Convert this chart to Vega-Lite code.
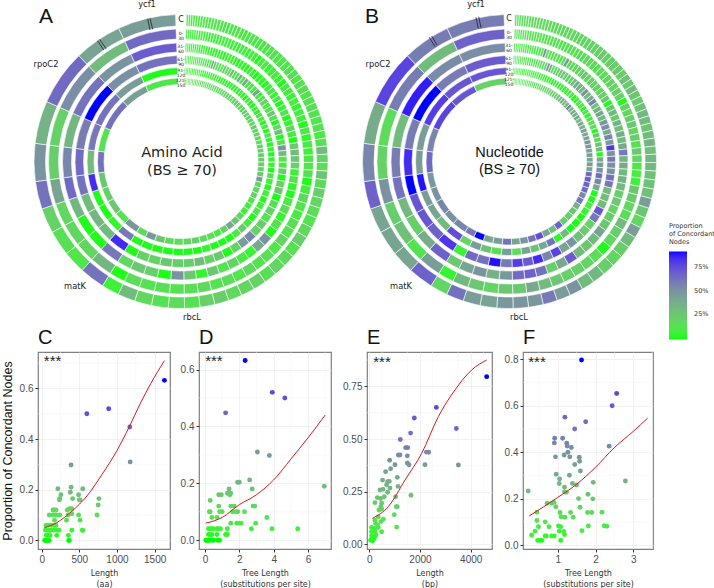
{"$schema":"https://vega.github.io/schema/vega-lite/v6.json","padding":0,"background":"white","config":{"view":{"stroke":null},"font":"DejaVu Sans"},
"datasets":{
"a1":[{"n":60,"v":10},{"n":62,"v":12},{"n":65,"v":8},{"n":68,"v":10},{"n":70,"v":12},{"n":72,"v":8},{"n":75,"v":10},{"n":78,"v":12},{"n":80,"v":10},{"n":82,"v":8},{"n":85,"v":12},{"n":88,"v":10},{"n":90,"v":10},{"n":92,"v":8},{"n":95,"v":12},{"n":98,"v":10},{"n":100,"v":8},{"n":102,"v":10},{"n":105,"v":12},{"n":108,"v":10},{"n":110,"v":8},{"n":112,"v":10},{"n":115,"v":12},{"n":120,"v":10},{"n":125,"v":8},{"n":130,"v":12},{"n":135,"v":10},{"n":140,"v":10},{"n":145,"v":14},{"n":150,"v":10},{"n":155,"v":12},{"n":158,"v":12},{"n":162,"v":10},{"n":166,"v":14},{"n":170,"v":10},{"n":175,"v":12},{"n":180,"v":14},{"n":185,"v":10},{"n":190,"v":12},{"n":195,"v":14},{"n":200,"v":12},{"n":205,"v":10},{"n":210,"v":14},{"n":215,"v":8},{"n":220,"v":14},{"n":225,"v":30},{"n":230,"v":18},{"n":235,"v":14},{"n":245,"v":28},{"n":255,"v":16},{"n":265,"v":22},{"n":275,"v":18},{"n":285,"v":14},{"n":295,"v":12},{"n":305,"v":16},{"n":315,"v":22},{"n":325,"v":12},{"n":335,"v":16},{"n":345,"v":18},{"n":355,"v":14},{"n":365,"v":20},{"n":375,"v":18},{"n":385,"v":16},{"n":395,"v":22},{"n":410,"v":20},{"n":425,"v":12},{"n":450,"v":15},{"n":465,"v":12},{"n":475,"v":17},{"n":485,"v":30},{"n":490,"v":5},{"n":700,"v":62},{"n":630,"v":10},{"n":700,"v":13},{"n":700,"v":20},{"n":770,"v":62},{"n":1050,"v":50},{"n":1190,"v":35},{"n":1540,"v":65},{"n":1330,"v":42},{"n":1610,"v":45}],
"a2":[{"n":60,"v":8},{"n":62,"v":5},{"n":65,"v":8},{"n":68,"v":6},{"n":70,"v":4},{"n":72,"v":8},{"n":75,"v":5},{"n":78,"v":6},{"n":80,"v":8},{"n":82,"v":4},{"n":85,"v":6},{"n":88,"v":8},{"n":90,"v":5},{"n":92,"v":4},{"n":95,"v":8},{"n":98,"v":6},{"n":100,"v":5},{"n":102,"v":8},{"n":105,"v":4},{"n":108,"v":6},{"n":110,"v":5},{"n":112,"v":8},{"n":115,"v":6},{"n":120,"v":3},{"n":125,"v":8},{"n":130,"v":5},{"n":135,"v":0},{"n":140,"v":6},{"n":145,"v":8},{"n":150,"v":4},{"n":155,"v":6},{"n":158,"v":8},{"n":162,"v":5},{"n":166,"v":0},{"n":170,"v":8},{"n":175,"v":6},{"n":180,"v":4},{"n":185,"v":8},{"n":190,"v":2},{"n":195,"v":8},{"n":200,"v":6},{"n":205,"v":0},{"n":210,"v":10},{"n":215,"v":2},{"n":220,"v":8},{"n":225,"v":5},{"n":230,"v":10},{"n":235,"v":10},{"n":245,"v":14},{"n":255,"v":0},{"n":265,"v":6},{"n":275,"v":16},{"n":285,"v":10},{"n":295,"v":8},{"n":305,"v":14},{"n":315,"v":12},{"n":325,"v":18},{"n":335,"v":10},{"n":345,"v":14},{"n":355,"v":12},{"n":365,"v":16},{"n":375,"v":10},{"n":385,"v":14},{"n":395,"v":12},{"n":410,"v":16},{"n":425,"v":14},{"n":450,"v":12},{"n":465,"v":13},{"n":475,"v":13},{"n":485,"v":15},{"n":490,"v":0},{"n":700,"v":33},{"n":630,"v":17},{"n":700,"v":17},{"n":700,"v":18},{"n":770,"v":42},{"n":1050,"v":22},{"n":1190,"v":20},{"n":1540,"v":52},{"n":1330,"v":30},{"n":1610,"v":65}],
"a3":[{"n":60,"v":6},{"n":62,"v":4},{"n":65,"v":2},{"n":68,"v":5},{"n":70,"v":3},{"n":72,"v":6},{"n":75,"v":2},{"n":78,"v":4},{"n":80,"v":0},{"n":82,"v":3},{"n":85,"v":5},{"n":88,"v":2},{"n":90,"v":4},{"n":92,"v":0},{"n":95,"v":3},{"n":98,"v":5},{"n":100,"v":2},{"n":102,"v":0},{"n":105,"v":4},{"n":108,"v":3},{"n":110,"v":6},{"n":112,"v":2},{"n":115,"v":0},{"n":120,"v":4},{"n":125,"v":2},{"n":130,"v":0},{"n":135,"v":5},{"n":140,"v":3},{"n":145,"v":0},{"n":150,"v":4},{"n":155,"v":2},{"n":158,"v":0},{"n":162,"v":3},{"n":166,"v":12},{"n":170,"v":5},{"n":175,"v":8},{"n":180,"v":0},{"n":185,"v":4},{"n":190,"v":14},{"n":195,"v":0},{"n":200,"v":2},{"n":205,"v":18},{"n":210,"v":6},{"n":215,"v":0},{"n":220,"v":25},{"n":225,"v":30},{"n":230,"v":25},{"n":235,"v":20},{"n":245,"v":4},{"n":255,"v":10},{"n":265,"v":2},{"n":275,"v":0},{"n":285,"v":8},{"n":295,"v":15},{"n":305,"v":3},{"n":315,"v":10},{"n":325,"v":0},{"n":335,"v":50},{"n":345,"v":40},{"n":355,"v":3},{"n":365,"v":10},{"n":375,"v":18},{"n":385,"v":12},{"n":395,"v":25},{"n":410,"v":3},{"n":425,"v":25},{"n":450,"v":50},{"n":465,"v":0},{"n":475,"v":20},{"n":485,"v":25},{"n":490,"v":17},{"n":700,"v":60},{"n":630,"v":0},{"n":700,"v":0},{"n":700,"v":33},{"n":770,"v":65},{"n":1050,"v":55},{"n":1190,"v":33},{"n":1540,"v":62},{"n":1330,"v":50},{"n":1610,"v":70}],
"a4":[{"n":60,"v":10},{"n":62,"v":8},{"n":65,"v":6},{"n":68,"v":10},{"n":70,"v":8},{"n":72,"v":6},{"n":75,"v":10},{"n":78,"v":8},{"n":80,"v":6},{"n":82,"v":10},{"n":85,"v":8},{"n":88,"v":12},{"n":90,"v":6},{"n":92,"v":10},{"n":95,"v":45},{"n":98,"v":20},{"n":100,"v":10},{"n":102,"v":8},{"n":105,"v":12},{"n":108,"v":25},{"n":110,"v":10},{"n":112,"v":14},{"n":115,"v":30},{"n":120,"v":12},{"n":125,"v":10},{"n":130,"v":38},{"n":135,"v":8},{"n":140,"v":40},{"n":145,"v":10},{"n":150,"v":14},{"n":155,"v":12},{"n":158,"v":40},{"n":162,"v":8},{"n":166,"v":12},{"n":170,"v":20},{"n":175,"v":6},{"n":180,"v":10},{"n":185,"v":25},{"n":190,"v":12},{"n":195,"v":0},{"n":200,"v":14},{"n":205,"v":30},{"n":210,"v":0},{"n":215,"v":14},{"n":220,"v":50},{"n":225,"v":30},{"n":230,"v":10},{"n":235,"v":10},{"n":245,"v":22},{"n":255,"v":0},{"n":265,"v":18},{"n":275,"v":25},{"n":285,"v":0},{"n":295,"v":12},{"n":305,"v":18},{"n":315,"v":12},{"n":325,"v":22},{"n":335,"v":20},{"n":345,"v":55},{"n":355,"v":45},{"n":365,"v":20},{"n":375,"v":0},{"n":385,"v":25},{"n":395,"v":20},{"n":410,"v":30},{"n":425,"v":22},{"n":450,"v":22},{"n":465,"v":25},{"n":475,"v":20},{"n":485,"v":20},{"n":490,"v":0},{"n":700,"v":85},{"n":630,"v":30},{"n":700,"v":33},{"n":700,"v":30},{"n":770,"v":62},{"n":1050,"v":65},{"n":1190,"v":58},{"n":1540,"v":95},{"n":1330,"v":52},{"n":1610,"v":62}],
"a5":[{"n":60,"v":4},{"n":62,"v":2},{"n":65,"v":0},{"n":68,"v":3},{"n":70,"v":5},{"n":72,"v":0},{"n":75,"v":3},{"n":78,"v":2},{"n":80,"v":0},{"n":82,"v":4},{"n":85,"v":3},{"n":88,"v":0},{"n":90,"v":2},{"n":92,"v":0},{"n":95,"v":5},{"n":98,"v":3},{"n":100,"v":0},{"n":102,"v":2},{"n":105,"v":4},{"n":108,"v":0},{"n":110,"v":3},{"n":112,"v":0},{"n":115,"v":2},{"n":120,"v":0},{"n":125,"v":3},{"n":130,"v":0},{"n":135,"v":5},{"n":140,"v":0},{"n":145,"v":8},{"n":150,"v":3},{"n":155,"v":0},{"n":158,"v":18},{"n":162,"v":2},{"n":166,"v":0},{"n":170,"v":5},{"n":175,"v":0},{"n":180,"v":20},{"n":185,"v":3},{"n":190,"v":0},{"n":195,"v":8},{"n":200,"v":0},{"n":205,"v":15},{"n":210,"v":3},{"n":215,"v":0},{"n":220,"v":8},{"n":225,"v":0},{"n":230,"v":5},{"n":235,"v":5},{"n":245,"v":0},{"n":255,"v":12},{"n":265,"v":3},{"n":275,"v":0},{"n":285,"v":10},{"n":295,"v":0},{"n":305,"v":5},{"n":315,"v":12},{"n":325,"v":0},{"n":335,"v":5},{"n":345,"v":25},{"n":355,"v":8},{"n":365,"v":0},{"n":375,"v":0},{"n":385,"v":0},{"n":395,"v":3},{"n":410,"v":0},{"n":425,"v":0},{"n":450,"v":0},{"n":465,"v":0},{"n":475,"v":0},{"n":485,"v":0},{"n":490,"v":0},{"n":700,"v":60},{"n":630,"v":3},{"n":700,"v":0},{"n":700,"v":0},{"n":770,"v":85},{"n":1050,"v":30},{"n":1190,"v":60},{"n":1540,"v":62},{"n":1330,"v":45},{"n":1610,"v":0}],
"a6":[{"n":60,"v":14},{"n":62,"v":18},{"n":65,"v":12},{"n":68,"v":16},{"n":70,"v":14},{"n":72,"v":18},{"n":75,"v":12},{"n":78,"v":16},{"n":80,"v":14},{"n":82,"v":18},{"n":85,"v":12},{"n":88,"v":14},{"n":90,"v":16},{"n":92,"v":12},{"n":95,"v":14},{"n":98,"v":18},{"n":100,"v":14},{"n":102,"v":16},{"n":105,"v":20},{"n":108,"v":14},{"n":110,"v":12},{"n":112,"v":16},{"n":115,"v":20},{"n":120,"v":16},{"n":125,"v":14},{"n":130,"v":22},{"n":135,"v":18},{"n":140,"v":15},{"n":145,"v":22},{"n":150,"v":18},{"n":155,"v":14},{"n":158,"v":20},{"n":162,"v":16},{"n":166,"v":24},{"n":170,"v":18},{"n":175,"v":22},{"n":180,"v":16},{"n":185,"v":20},{"n":190,"v":25},{"n":195,"v":15},{"n":200,"v":18},{"n":205,"v":22},{"n":210,"v":14},{"n":215,"v":20},{"n":220,"v":18},{"n":225,"v":25},{"n":230,"v":22},{"n":235,"v":22},{"n":245,"v":20},{"n":255,"v":25},{"n":265,"v":45},{"n":275,"v":15},{"n":285,"v":18},{"n":295,"v":20},{"n":305,"v":10},{"n":315,"v":8},{"n":325,"v":5},{"n":335,"v":18},{"n":345,"v":28},{"n":355,"v":42},{"n":365,"v":20},{"n":375,"v":5},{"n":385,"v":15},{"n":395,"v":18},{"n":410,"v":20},{"n":425,"v":18},{"n":450,"v":15},{"n":465,"v":15},{"n":475,"v":25},{"n":485,"v":48},{"n":490,"v":15},{"n":700,"v":48},{"n":630,"v":12},{"n":700,"v":25},{"n":700,"v":22},{"n":770,"v":25},{"n":1050,"v":62},{"n":1190,"v":12},{"n":1540,"v":62},{"n":1330,"v":45},{"n":1610,"v":10}],
"b1":[{"n":60,"v":14},{"n":62,"v":16},{"n":65,"v":12},{"n":68,"v":15},{"n":70,"v":14},{"n":72,"v":18},{"n":75,"v":14},{"n":78,"v":16},{"n":80,"v":15},{"n":82,"v":18},{"n":85,"v":16},{"n":88,"v":14},{"n":90,"v":18},{"n":92,"v":16},{"n":95,"v":15},{"n":98,"v":18},{"n":100,"v":14},{"n":102,"v":16},{"n":105,"v":20},{"n":108,"v":15},{"n":110,"v":18},{"n":112,"v":16},{"n":115,"v":18},{"n":120,"v":20},{"n":125,"v":16},{"n":130,"v":22},{"n":135,"v":18},{"n":140,"v":20},{"n":145,"v":24},{"n":150,"v":20},{"n":155,"v":22},{"n":158,"v":22},{"n":162,"v":25},{"n":166,"v":20},{"n":170,"v":28},{"n":175,"v":24},{"n":180,"v":30},{"n":185,"v":26},{"n":190,"v":22},{"n":195,"v":28},{"n":200,"v":32},{"n":205,"v":30},{"n":210,"v":26},{"n":215,"v":30},{"n":220,"v":35},{"n":225,"v":28},{"n":230,"v":32},{"n":235,"v":30},{"n":245,"v":28},{"n":255,"v":28},{"n":265,"v":28},{"n":275,"v":45},{"n":285,"v":25},{"n":295,"v":18},{"n":305,"v":45},{"n":315,"v":30},{"n":325,"v":22},{"n":335,"v":18},{"n":345,"v":22},{"n":355,"v":32},{"n":365,"v":30},{"n":375,"v":50},{"n":385,"v":45},{"n":395,"v":60},{"n":410,"v":48},{"n":425,"v":48},{"n":450,"v":48},{"n":465,"v":42},{"n":475,"v":45},{"n":485,"v":62},{"n":490,"v":18},{"n":700,"v":68},{"n":630,"v":42},{"n":700,"v":42},{"n":700,"v":42},{"n":770,"v":68},{"n":1050,"v":55},{"n":1190,"v":38},{"n":1540,"v":78},{"n":1330,"v":58},{"n":1610,"v":58}],
"b2":[{"n":60,"v":12},{"n":62,"v":14},{"n":65,"v":10},{"n":68,"v":12},{"n":70,"v":14},{"n":72,"v":10},{"n":75,"v":12},{"n":78,"v":14},{"n":80,"v":10},{"n":82,"v":12},{"n":85,"v":10},{"n":88,"v":14},{"n":90,"v":12},{"n":92,"v":8},{"n":95,"v":12},{"n":98,"v":10},{"n":100,"v":14},{"n":102,"v":12},{"n":105,"v":10},{"n":108,"v":12},{"n":110,"v":14},{"n":112,"v":12},{"n":115,"v":14},{"n":120,"v":12},{"n":125,"v":16},{"n":130,"v":14},{"n":135,"v":18},{"n":140,"v":14},{"n":145,"v":16},{"n":150,"v":14},{"n":155,"v":18},{"n":158,"v":14},{"n":162,"v":18},{"n":166,"v":20},{"n":170,"v":16},{"n":175,"v":22},{"n":180,"v":18},{"n":185,"v":0},{"n":190,"v":20},{"n":195,"v":16},{"n":200,"v":22},{"n":205,"v":25},{"n":210,"v":18},{"n":215,"v":22},{"n":220,"v":12},{"n":225,"v":25},{"n":230,"v":18},{"n":235,"v":10},{"n":245,"v":8},{"n":255,"v":5},{"n":265,"v":25},{"n":275,"v":22},{"n":285,"v":18},{"n":295,"v":15},{"n":305,"v":30},{"n":315,"v":22},{"n":325,"v":18},{"n":335,"v":0},{"n":345,"v":15},{"n":355,"v":18},{"n":365,"v":20},{"n":375,"v":20},{"n":385,"v":25},{"n":395,"v":30},{"n":410,"v":40},{"n":425,"v":25},{"n":450,"v":25},{"n":465,"v":18},{"n":475,"v":25},{"n":485,"v":32},{"n":490,"v":3},{"n":700,"v":45},{"n":630,"v":12},{"n":700,"v":28},{"n":700,"v":22},{"n":770,"v":50},{"n":1050,"v":20},{"n":1190,"v":15},{"n":1540,"v":58},{"n":1330,"v":30},{"n":1610,"v":68}],
"b3":[{"n":60,"v":10},{"n":62,"v":8},{"n":65,"v":12},{"n":68,"v":6},{"n":70,"v":8},{"n":72,"v":10},{"n":75,"v":3},{"n":78,"v":8},{"n":80,"v":10},{"n":82,"v":6},{"n":85,"v":8},{"n":88,"v":12},{"n":90,"v":5},{"n":92,"v":8},{"n":95,"v":55},{"n":98,"v":10},{"n":100,"v":8},{"n":102,"v":12},{"n":105,"v":15},{"n":108,"v":10},{"n":110,"v":8},{"n":112,"v":15},{"n":115,"v":50},{"n":120,"v":10},{"n":125,"v":12},{"n":130,"v":18},{"n":135,"v":20},{"n":140,"v":15},{"n":145,"v":25},{"n":150,"v":18},{"n":155,"v":20},{"n":158,"v":15},{"n":162,"v":22},{"n":166,"v":18},{"n":170,"v":20},{"n":175,"v":25},{"n":180,"v":0},{"n":185,"v":25},{"n":190,"v":30},{"n":195,"v":22},{"n":200,"v":35},{"n":205,"v":28},{"n":210,"v":38},{"n":215,"v":30},{"n":220,"v":40},{"n":225,"v":60},{"n":230,"v":35},{"n":235,"v":38},{"n":245,"v":32},{"n":255,"v":35},{"n":265,"v":30},{"n":275,"v":22},{"n":285,"v":25},{"n":295,"v":18},{"n":305,"v":22},{"n":315,"v":25},{"n":325,"v":42},{"n":335,"v":30},{"n":345,"v":25},{"n":355,"v":30},{"n":365,"v":70},{"n":375,"v":40},{"n":385,"v":22},{"n":395,"v":62},{"n":410,"v":68},{"n":425,"v":65},{"n":450,"v":48},{"n":465,"v":35},{"n":475,"v":50},{"n":485,"v":42},{"n":490,"v":25},{"n":700,"v":68},{"n":630,"v":38},{"n":700,"v":22},{"n":700,"v":32},{"n":770,"v":62},{"n":1050,"v":58},{"n":1190,"v":30},{"n":1540,"v":88},{"n":1330,"v":53},{"n":1610,"v":52}],
"b4":[{"n":60,"v":14},{"n":62,"v":10},{"n":65,"v":12},{"n":68,"v":8},{"n":70,"v":14},{"n":72,"v":10},{"n":75,"v":12},{"n":78,"v":8},{"n":80,"v":15},{"n":82,"v":12},{"n":85,"v":10},{"n":88,"v":14},{"n":90,"v":18},{"n":92,"v":12},{"n":95,"v":20},{"n":98,"v":15},{"n":100,"v":18},{"n":102,"v":50},{"n":105,"v":40},{"n":108,"v":15},{"n":110,"v":18},{"n":112,"v":14},{"n":115,"v":25},{"n":120,"v":30},{"n":125,"v":18},{"n":130,"v":22},{"n":135,"v":20},{"n":140,"v":28},{"n":145,"v":40},{"n":150,"v":35},{"n":155,"v":30},{"n":158,"v":50},{"n":162,"v":30},{"n":166,"v":40},{"n":170,"v":55},{"n":175,"v":25},{"n":180,"v":35},{"n":185,"v":42},{"n":190,"v":30},{"n":195,"v":48},{"n":200,"v":52},{"n":205,"v":38},{"n":210,"v":55},{"n":215,"v":45},{"n":220,"v":82},{"n":225,"v":50},{"n":230,"v":60},{"n":235,"v":52},{"n":245,"v":50},{"n":255,"v":62},{"n":265,"v":60},{"n":275,"v":30},{"n":285,"v":30},{"n":295,"v":30},{"n":305,"v":72},{"n":315,"v":60},{"n":325,"v":18},{"n":335,"v":22},{"n":345,"v":28},{"n":355,"v":50},{"n":365,"v":42},{"n":375,"v":78},{"n":385,"v":55},{"n":395,"v":85},{"n":410,"v":70},{"n":425,"v":80},{"n":450,"v":58},{"n":465,"v":90},{"n":475,"v":62},{"n":485,"v":65},{"n":490,"v":5},{"n":700,"v":82},{"n":630,"v":68},{"n":700,"v":72},{"n":700,"v":72},{"n":770,"v":92},{"n":1050,"v":85},{"n":1190,"v":58},{"n":1540,"v":95},{"n":1330,"v":58},{"n":1610,"v":70}],
"b5":[{"n":60,"v":6},{"n":62,"v":4},{"n":65,"v":2},{"n":68,"v":5},{"n":70,"v":3},{"n":72,"v":6},{"n":75,"v":0},{"n":78,"v":4},{"n":80,"v":6},{"n":82,"v":2},{"n":85,"v":5},{"n":88,"v":3},{"n":90,"v":0},{"n":92,"v":4},{"n":95,"v":6},{"n":98,"v":3},{"n":100,"v":5},{"n":102,"v":2},{"n":105,"v":0},{"n":108,"v":4},{"n":110,"v":3},{"n":112,"v":0},{"n":115,"v":2},{"n":120,"v":15},{"n":125,"v":5},{"n":130,"v":3},{"n":135,"v":0},{"n":140,"v":6},{"n":145,"v":12},{"n":150,"v":8},{"n":155,"v":0},{"n":158,"v":5},{"n":162,"v":10},{"n":166,"v":8},{"n":170,"v":0},{"n":175,"v":12},{"n":180,"v":0},{"n":185,"v":15},{"n":190,"v":10},{"n":195,"v":18},{"n":200,"v":0},{"n":205,"v":25},{"n":210,"v":12},{"n":215,"v":28},{"n":220,"v":30},{"n":225,"v":0},{"n":230,"v":40},{"n":235,"v":45},{"n":245,"v":50},{"n":255,"v":65},{"n":265,"v":55},{"n":275,"v":40},{"n":285,"v":0},{"n":295,"v":0},{"n":305,"v":8},{"n":315,"v":3},{"n":325,"v":0},{"n":335,"v":0},{"n":345,"v":0},{"n":355,"v":30},{"n":365,"v":3},{"n":375,"v":62},{"n":385,"v":40},{"n":395,"v":28},{"n":410,"v":42},{"n":425,"v":15},{"n":450,"v":45},{"n":465,"v":12},{"n":475,"v":28},{"n":485,"v":45},{"n":490,"v":18},{"n":700,"v":75},{"n":630,"v":30},{"n":700,"v":42},{"n":700,"v":45},{"n":770,"v":90},{"n":1050,"v":45},{"n":1190,"v":45},{"n":1540,"v":80},{"n":1330,"v":72},{"n":1610,"v":72}],
"b6":[{"n":60,"v":12},{"n":62,"v":14},{"n":65,"v":10},{"n":68,"v":12},{"n":70,"v":15},{"n":72,"v":12},{"n":75,"v":14},{"n":78,"v":10},{"n":80,"v":12},{"n":82,"v":14},{"n":85,"v":12},{"n":88,"v":15},{"n":90,"v":18},{"n":92,"v":14},{"n":95,"v":20},{"n":98,"v":16},{"n":100,"v":14},{"n":102,"v":18},{"n":105,"v":16},{"n":108,"v":20},{"n":110,"v":22},{"n":112,"v":18},{"n":115,"v":22},{"n":120,"v":26},{"n":125,"v":20},{"n":130,"v":25},{"n":135,"v":30},{"n":140,"v":28},{"n":145,"v":35},{"n":150,"v":30},{"n":155,"v":32},{"n":158,"v":55},{"n":162,"v":30},{"n":166,"v":35},{"n":170,"v":38},{"n":175,"v":42},{"n":180,"v":30},{"n":185,"v":40},{"n":190,"v":35},{"n":195,"v":45},{"n":200,"v":38},{"n":205,"v":42},{"n":210,"v":50},{"n":215,"v":48},{"n":220,"v":42},{"n":225,"v":45},{"n":230,"v":40},{"n":235,"v":45},{"n":245,"v":40},{"n":255,"v":65},{"n":265,"v":70},{"n":275,"v":68},{"n":285,"v":65},{"n":295,"v":55},{"n":305,"v":60},{"n":315,"v":35},{"n":325,"v":25},{"n":335,"v":20},{"n":345,"v":22},{"n":355,"v":68},{"n":365,"v":30},{"n":375,"v":42},{"n":385,"v":75},{"n":395,"v":62},{"n":410,"v":48},{"n":425,"v":42},{"n":450,"v":62},{"n":465,"v":45},{"n":475,"v":42},{"n":485,"v":95},{"n":490,"v":60},{"n":700,"v":55},{"n":630,"v":50},{"n":700,"v":55},{"n":700,"v":50},{"n":770,"v":48},{"n":1050,"v":65},{"n":1190,"v":55},{"n":1540,"v":78},{"n":1330,"v":72},{"n":1610,"v":20}],
"la":[{"t":"ycf1","x":146,"y":5,"f":8.3},{"t":"rpoC2","x":45,"y":65,"f":8.3},{"t":"matK","x":74,"y":287,"f":8.3},{"t":"rbcL","x":191,"y":318,"f":8.3},{"t":"Amino Acid","x":181,"y":153,"f":14.5},{"t":"(BS ≥ 70)","x":181,"y":171,"f":14.5},{"t":"C","x":180,"y":20,"f":8},{"t":"0-\n30","x":180,"y":34,"f":4.5},{"t":"31-\n60","x":180,"y":47,"f":4.5},{"t":"61-\n90","x":180,"y":60,"f":4.5},{"t":"91-\n120","x":180,"y":71,"f":4.5},{"t":"121-\n150","x":180,"y":81,"f":4.5}],
"lb":[{"t":"ycf1","x":115,"y":5,"f":8.3},{"t":"rpoC2","x":17,"y":65,"f":8.3},{"t":"matK","x":40,"y":287,"f":8.3},{"t":"rbcL","x":158,"y":318,"f":8.3},{"t":"C","x":148,"y":19,"f":8},{"t":"0-\n30","x":148,"y":33,"f":4.5},{"t":"31-\n60","x":148,"y":46,"f":4.5},{"t":"61-\n90","x":148,"y":59,"f":4.5},{"t":"91-\n120","x":148,"y":70,"f":4.5},{"t":"121-\n150","x":148,"y":80,"f":4.5}],
"pointsC":[{"x":1630,"y":0.632},{"x":600,"y":0.5},{"x":890,"y":0.52},{"x":1170,"y":0.448},{"x":1175,"y":0.31},{"x":390,"y":0.298},{"x":215,"y":0.204},{"x":255,"y":0.18},{"x":240,"y":0.165},{"x":235,"y":0.16},{"x":380,"y":0.19},{"x":390,"y":0.21},{"x":410,"y":0.165},{"x":490,"y":0.18},{"x":500,"y":0.16},{"x":545,"y":0.204},{"x":510,"y":0.16},{"x":760,"y":0.165},{"x":750,"y":0.14},{"x":735,"y":0.1},{"x":150,"y":0.12},{"x":170,"y":0.12},{"x":190,"y":0.12},{"x":100,"y":0.1},{"x":150,"y":0.1},{"x":240,"y":0.1},{"x":340,"y":0.12},{"x":370,"y":0.125},{"x":400,"y":0.125},{"x":350,"y":0.1},{"x":400,"y":0.105},{"x":330,"y":0.08},{"x":490,"y":0.1},{"x":510,"y":0.08},{"x":190,"y":0.1},{"x":170,"y":0.08},{"x":400,"y":0.04},{"x":540,"y":0.04},{"x":545,"y":0.04},{"x":60,"y":0.06},{"x":90,"y":0.06},{"x":130,"y":0.06},{"x":170,"y":0.06},{"x":190,"y":0.06},{"x":50,"y":0.04},{"x":80,"y":0.04},{"x":100,"y":0.04},{"x":120,"y":0.04},{"x":160,"y":0.04},{"x":205,"y":0.04},{"x":230,"y":0.04},{"x":60,"y":0.02},{"x":80,"y":0.02},{"x":110,"y":0.02},{"x":200,"y":0.02},{"x":355,"y":0.02},{"x":40,"y":0},{"x":50,"y":0},{"x":65,"y":0},{"x":80,"y":0},{"x":100,"y":0},{"x":360,"y":0},{"x":365,"y":0}],
"lineC":[{"x":35,"y":0.05},{"x":200,"y":0.07},{"x":400,"y":0.115},{"x":600,"y":0.175},{"x":800,"y":0.26},{"x":1000,"y":0.355},{"x":1165,"y":0.45},{"x":1300,"y":0.535},{"x":1450,"y":0.62},{"x":1630,"y":0.71}],
"pointsD":[{"x":2.34,"y":0.632},{"x":3.92,"y":0.52},{"x":4.65,"y":0.5},{"x":1.2,"y":0.448},{"x":3.05,"y":0.31},{"x":3.75,"y":0.298},{"x":6.95,"y":0.19},{"x":2.6,"y":0.212},{"x":1.9,"y":0.204},{"x":2,"y":0.204},{"x":2.75,"y":0.18},{"x":1.4,"y":0.18},{"x":1.3,"y":0.165},{"x":1.45,"y":0.16},{"x":1.5,"y":0.165},{"x":0.8,"y":0.16},{"x":0.95,"y":0.16},{"x":0.3,"y":0.14},{"x":0.8,"y":0.12},{"x":1.5,"y":0.12},{"x":1.7,"y":0.12},{"x":2.8,"y":0.12},{"x":2.9,"y":0.12},{"x":0.25,"y":0.1},{"x":0.3,"y":0.1},{"x":0.85,"y":0.1},{"x":1,"y":0.1},{"x":1.6,"y":0.1},{"x":1.8,"y":0.1},{"x":2.3,"y":0.1},{"x":1.9,"y":0.1},{"x":0.4,"y":0.08},{"x":0.7,"y":0.08},{"x":3.6,"y":0.08},{"x":1.5,"y":0.06},{"x":1.85,"y":0.06},{"x":2,"y":0.06},{"x":2.1,"y":0.06},{"x":2.95,"y":0.06},{"x":0.2,"y":0.04},{"x":0.3,"y":0.04},{"x":0.4,"y":0.04},{"x":0.5,"y":0.04},{"x":0.7,"y":0.04},{"x":0.75,"y":0.04},{"x":0.9,"y":0.04},{"x":1.3,"y":0.04},{"x":2.7,"y":0.04},{"x":3.9,"y":0.04},{"x":5.4,"y":0.04},{"x":0.2,"y":0.02},{"x":0.3,"y":0.02},{"x":0.4,"y":0.02},{"x":0.7,"y":0.02},{"x":1.2,"y":0.02},{"x":1.3,"y":0.02},{"x":0.05,"y":0},{"x":0.1,"y":0},{"x":0.15,"y":0},{"x":0.2,"y":0},{"x":0.3,"y":0},{"x":0.4,"y":0},{"x":0.5,"y":0},{"x":0.75,"y":0},{"x":0.85,"y":0}],
"lineD":[{"x":0.05,"y":0.06},{"x":1,"y":0.08},{"x":2,"y":0.125},{"x":3,"y":0.16},{"x":4,"y":0.212},{"x":5,"y":0.285},{"x":6,"y":0.36},{"x":7,"y":0.44}],
"pointsE":[{"x":1776,"y":0.6},{"x":2645,"y":0.65},{"x":4630,"y":0.796},{"x":3434,"y":0.55},{"x":1630,"y":0.528},{"x":1224,"y":0.498},{"x":1434,"y":0.459},{"x":1513,"y":0.459},{"x":1145,"y":0.424},{"x":1210,"y":0.424},{"x":1500,"y":0.42},{"x":2250,"y":0.438},{"x":2342,"y":0.437},{"x":803,"y":0.399},{"x":1013,"y":0.378},{"x":1500,"y":0.386},{"x":1566,"y":0.378},{"x":2197,"y":0.378},{"x":3513,"y":0.377},{"x":645,"y":0.345},{"x":842,"y":0.359},{"x":1105,"y":0.318},{"x":526,"y":0.305},{"x":724,"y":0.297},{"x":789,"y":0.299},{"x":684,"y":0.283},{"x":1132,"y":0.275},{"x":816,"y":0.267},{"x":724,"y":0.247},{"x":421,"y":0.258},{"x":540,"y":0.261},{"x":592,"y":0.226},{"x":316,"y":0.222},{"x":447,"y":0.218},{"x":1039,"y":0.226},{"x":224,"y":0.198},{"x":487,"y":0.195},{"x":1645,"y":0.233},{"x":1066,"y":0.179},{"x":1105,"y":0.179},{"x":460,"y":0.179},{"x":382,"y":0.163},{"x":487,"y":0.168},{"x":987,"y":0.141},{"x":355,"y":0.131},{"x":224,"y":0.115},{"x":553,"y":0.119},{"x":460,"y":0.108},{"x":1079,"y":0.082},{"x":250,"y":0.1},{"x":329,"y":0.092},{"x":487,"y":0.06},{"x":355,"y":0.08},{"x":92,"y":0.08},{"x":224,"y":0.076},{"x":92,"y":0.06},{"x":224,"y":0.06},{"x":92,"y":0.04},{"x":224,"y":0.04},{"x":92,"y":0.02},{"x":197,"y":0.028},{"x":132,"y":0.017},{"x":53,"y":0.02},{"x":263,"y":0.044}],
"lineE":[{"x":118,"y":0.123},{"x":750,"y":0.179},{"x":1408,"y":0.305},{"x":2066,"y":0.432},{"x":2724,"y":0.606},{"x":3381,"y":0.733},{"x":4039,"y":0.828},{"x":4630,"y":0.875}],
"pointsF":[{"x":1.63,"y":0.797},{"x":2.56,"y":0.653},{"x":2.44,"y":0.6},{"x":1.19,"y":0.551},{"x":1.74,"y":0.531},{"x":1.45,"y":0.5},{"x":0.92,"y":0.46},{"x":1.13,"y":0.46},{"x":0.91,"y":0.44},{"x":2.36,"y":0.426},{"x":1.24,"y":0.439},{"x":1.25,"y":0.427},{"x":1.36,"y":0.42},{"x":1.27,"y":0.4},{"x":1.17,"y":0.388},{"x":0.94,"y":0.38},{"x":1.32,"y":0.38},{"x":1.57,"y":0.378},{"x":1.58,"y":0.361},{"x":1.45,"y":0.347},{"x":1.6,"y":0.319},{"x":1.31,"y":0.301},{"x":0.96,"y":0.305},{"x":1.05,"y":0.285},{"x":1.04,"y":0.265},{"x":2.79,"y":0.276},{"x":1.94,"y":0.27},{"x":1.39,"y":0.265},{"x":1.5,"y":0.259},{"x":1.18,"y":0.249},{"x":1.18,"y":0.229},{"x":1.23,"y":0.227},{"x":1.8,"y":0.219},{"x":0.22,"y":0.233},{"x":1.55,"y":0.2},{"x":1.93,"y":0.199},{"x":0.72,"y":0.18},{"x":0.84,"y":0.18},{"x":0.9,"y":0.184},{"x":0.95,"y":0.165},{"x":1.59,"y":0.163},{"x":0.45,"y":0.141},{"x":1.06,"y":0.14},{"x":1.34,"y":0.14},{"x":1.79,"y":0.14},{"x":1.9,"y":0.14},{"x":2.17,"y":0.141},{"x":1.09,"y":0.122},{"x":1.19,"y":0.12},{"x":1.41,"y":0.12},{"x":0.45,"y":0.106},{"x":0.67,"y":0.1},{"x":0.49,"y":0.079},{"x":0.77,"y":0.079},{"x":1.02,"y":0.082},{"x":1.08,"y":0.079},{"x":1.81,"y":0.082},{"x":2.23,"y":0.083},{"x":2.3,"y":0.081},{"x":0.4,"y":0.06},{"x":1.64,"y":0.062},{"x":1.04,"y":0.06},{"x":1.16,"y":0.059},{"x":0.31,"y":0.043},{"x":0.67,"y":0.039},{"x":0.7,"y":0.039},{"x":0.84,"y":0.039},{"x":0.91,"y":0.039},{"x":1.18,"y":0.045},{"x":0.47,"y":0.02},{"x":0.54,"y":0.02},{"x":0.58,"y":0.02},{"x":1.08,"y":0.02}],
"lineF":[{"x":0.243,"y":0.125},{"x":1,"y":0.205},{"x":1.5,"y":0.262},{"x":2,"y":0.335},{"x":2.5,"y":0.42},{"x":3,"y":0.49},{"x":3.38,"y":0.547}]
},
"resolve":{"scale":{"color":"independent","theta":"independent","size":"independent"},"legend":{"color":"independent"}},
"spacing":-13,
"vconcat":[
{"hconcat":[
{"width":360,"height":323,"layer":[
 {"encoding":{"theta":{"field":"s0","type":"quantitative","stack":null,"scale":{"domain":[0,24973],"range":[0.037,6.246],"nice":false}},"theta2":{"field":"s1"},"color":{"field":"v","type":"quantitative","legend":null,"scale":{"domain":[-2,50,92],"range":["#00ff00","#7a93a0","#0000ff"],"interpolate":"lab"}}},
 "layer":[
 {"data":{"name":"a1"},"transform":[{"stack":"n","groupby":[],"as":["s0","s1"]}],"mark":{"type":"arc","innerRadius":135.5,"outerRadius":147,"stroke":"white","strokeWidth":0.6}},
 {"data":{"name":"a2"},"transform":[{"stack":"n","groupby":[],"as":["s0","s1"]}],"mark":{"type":"arc","innerRadius":122.5,"outerRadius":132.5,"stroke":"white","strokeWidth":0.6}},
 {"data":{"name":"a3"},"transform":[{"stack":"n","groupby":[],"as":["s0","s1"]}],"mark":{"type":"arc","innerRadius":109.5,"outerRadius":118.5,"stroke":"white","strokeWidth":0.6}},
 {"data":{"name":"a4"},"transform":[{"stack":"n","groupby":[],"as":["s0","s1"]}],"mark":{"type":"arc","innerRadius":97.5,"outerRadius":106,"stroke":"white","strokeWidth":0.6}},
 {"data":{"name":"a5"},"transform":[{"stack":"n","groupby":[],"as":["s0","s1"]}],"mark":{"type":"arc","innerRadius":87,"outerRadius":94,"stroke":"white","strokeWidth":0.6}},
 {"data":{"name":"a6"},"transform":[{"stack":"n","groupby":[],"as":["s0","s1"]}],"mark":{"type":"arc","innerRadius":77,"outerRadius":83.5,"stroke":"white","strokeWidth":0.6}}]},
 {"data":{"name":"la"},"mark":{"type":"text","lineBreak":"\n","color":"#222","lineHeight":5},"encoding":{"x":{"field":"x","type":"quantitative","axis":null,"scale":{"domain":[0,360],"nice":false}},"y":{"field":"y","type":"quantitative","axis":null,"scale":{"domain":[323,0],"nice":false}},"text":{"field":"t"},"size":{"field":"f","type":"quantitative","legend":null,"scale":null}}},
 {"data":{"values":[{"t":"A","x":38,"y":23}]},"mark":{"type":"text","align":"left","baseline":"alphabetic","fontSize":21,"font":"Liberation Sans","color":"#111"},"encoding":{"x":{"field":"x","type":"quantitative","axis":null,"scale":{"domain":[0,360],"nice":false}},"y":{"field":"y","type":"quantitative","axis":null,"scale":{"domain":[323,0],"nice":false}},"text":{"field":"t"}}},
 {"data":{"values":[{"x":146.7,"y":18.7,"x2":149,"y2":30},{"x":149,"y":18.3,"x2":151.7,"y2":29.3},{"x":96.7,"y":40.7,"x2":102.7,"y2":50},{"x":98.7,"y":39.3,"x2":105,"y2":48.7}]},"mark":{"type":"rule","color":"#222","strokeWidth":0.8},"encoding":{"x":{"field":"x","type":"quantitative","axis":null,"scale":{"domain":[0,360],"nice":false}},"y":{"field":"y","type":"quantitative","axis":null,"scale":{"domain":[323,0],"nice":false}},"x2":{"field":"x2"},"y2":{"field":"y2"}}}
]},
{"width":297,"height":323,"layer":[
 {"encoding":{"theta":{"field":"s0","type":"quantitative","stack":null,"scale":{"domain":[0,24973],"range":[0.037,6.246],"nice":false}},"theta2":{"field":"s1"},"color":{"field":"v","type":"quantitative","title":["Proportion","of Concordant","Nodes"],"scale":{"domain":[-2,50,92],"range":["#00ff00","#7a93a0","#0000ff"],"interpolate":"lab"},"legend":{"orient":"none","legendX":308,"legendY":223,"values":[25,50,75],"labelExpr":"datum.label+'%'","gradientLength":88,"gradientThickness":18,"titleFontSize":6.5,"titleFontWeight":"normal","titleColor":"#333","titleLineHeight":8,"titleFont":"DejaVu Sans","labelFont":"DejaVu Sans","labelFontSize":6.5,"labelColor":"#333","titlePadding":6,"labelOffset":7,"titleLimit":70}}},
 "layer":[
 {"data":{"name":"b1"},"transform":[{"stack":"n","groupby":[],"as":["s0","s1"]}],"mark":{"type":"arc","innerRadius":135.5,"outerRadius":147,"stroke":"white","strokeWidth":0.6}},
 {"data":{"name":"b2"},"transform":[{"stack":"n","groupby":[],"as":["s0","s1"]}],"mark":{"type":"arc","innerRadius":122.5,"outerRadius":132.5,"stroke":"white","strokeWidth":0.6}},
 {"data":{"name":"b3"},"transform":[{"stack":"n","groupby":[],"as":["s0","s1"]}],"mark":{"type":"arc","innerRadius":109.5,"outerRadius":118.5,"stroke":"white","strokeWidth":0.6}},
 {"data":{"name":"b4"},"transform":[{"stack":"n","groupby":[],"as":["s0","s1"]}],"mark":{"type":"arc","innerRadius":97.5,"outerRadius":106,"stroke":"white","strokeWidth":0.6}},
 {"data":{"name":"b5"},"transform":[{"stack":"n","groupby":[],"as":["s0","s1"]}],"mark":{"type":"arc","innerRadius":87,"outerRadius":94,"stroke":"white","strokeWidth":0.6}},
 {"data":{"name":"b6"},"transform":[{"stack":"n","groupby":[],"as":["s0","s1"]}],"mark":{"type":"arc","innerRadius":77,"outerRadius":83.5,"stroke":"white","strokeWidth":0.6}}]},
 {"data":{"name":"lb"},"mark":{"type":"text","lineBreak":"\n","color":"#222","lineHeight":5},"encoding":{"x":{"field":"x","type":"quantitative","axis":null,"scale":{"domain":[0,297],"nice":false}},"y":{"field":"y","type":"quantitative","axis":null,"scale":{"domain":[323,0],"nice":false}},"text":{"field":"t"},"size":{"field":"f","type":"quantitative","legend":null,"scale":null}}},
 {"data":{"values":[{"t":"Nucleotide","x":148.5,"y":153},{"t":"(BS ≥ 70)","x":148.5,"y":170}]},"mark":{"type":"text","fontSize":14.5,"font":"Liberation Sans","color":"#111"},"encoding":{"x":{"field":"x","type":"quantitative","axis":null,"scale":{"domain":[0,297],"nice":false}},"y":{"field":"y","type":"quantitative","axis":null,"scale":{"domain":[323,0],"nice":false}},"text":{"field":"t"}}},
 {"data":{"values":[{"t":"B","x":4,"y":23}]},"mark":{"type":"text","align":"left","baseline":"alphabetic","fontSize":21,"font":"Liberation Sans","color":"#111"},"encoding":{"x":{"field":"x","type":"quantitative","axis":null,"scale":{"domain":[0,297],"nice":false}},"y":{"field":"y","type":"quantitative","axis":null,"scale":{"domain":[323,0],"nice":false}},"text":{"field":"t"}}},
 {"data":{"values":[{"x":115,"y":17.3,"x2":117.3,"y2":28.3},{"x":117.7,"y":16.7,"x2":120,"y2":27.7},{"x":68.3,"y":37.3,"x2":74,"y2":46.7},{"x":70.7,"y":36,"x2":76,"y2":45}]},"mark":{"type":"rule","color":"#222","strokeWidth":0.8},"encoding":{"x":{"field":"x","type":"quantitative","axis":null,"scale":{"domain":[0,297],"nice":false}},"y":{"field":"y","type":"quantitative","axis":null,"scale":{"domain":[323,0],"nice":false}},"x2":{"field":"x2"},"y2":{"field":"y2"}}}
]}
],"spacing":0,"bounds":"flush","resolve":{"scale":{"color":"independent","theta":"independent","size":"independent"},"legend":{"color":"independent"}}},
{"hconcat":[
{"width":37,"height":1,"data":{"values":[{}]},"mark":{"type":"point","opacity":0}},
{"width":132,"height":197,"view":{"stroke":"#7f7f7f","strokeWidth":1.2},"title":{"text":"C","anchor":"start","frame":"group","fontSize":20,"font":"Liberation Sans","fontWeight":"normal","offset":4,"color":"#111"},"layer":[
 {"data":{"values":[{"x":250},{"x":750},{"x":1250}]},"mark":{"type":"rule","color":"#f3f3f3","strokeWidth":0.5},"encoding":{"x":{"field":"x","type":"quantitative","scale":{"domain":[-49,1704],"nice":false,"zero":false}}}},
 {"data":{"values":[{"y":0.1},{"y":0.3},{"y":0.5},{"y":0.7}]},"mark":{"type":"rule","color":"#f3f3f3","strokeWidth":0.5},"encoding":{"y":{"field":"y","type":"quantitative","scale":{"domain":[-0.034,0.744],"nice":false,"zero":false}}}},
 {"data":{"name":"pointsC"},"mark":{"type":"circle","size":24,"opacity":1},"encoding":{"x":{"field":"x","type":"quantitative","title":["Length","(aa)"],"scale":{"domain":[-49,1704],"nice":false,"zero":false},"axis":{"values":[0,500,1000,1500],"format":"d","labelOverlap":false,"grid":true,"gridColor":"#ebebeb","gridWidth":0.7,"domain":false,"tickColor":"#333","tickSize":3,"labelFont":"Liberation Sans","labelFontSize":10,"labelColor":"#4d4d4d","labelPadding":2,"titleFont":"DejaVu Sans","titleFontSize":8,"titleFontWeight":"normal","titleColor":"#333","titleLineHeight":11,"titlePadding":5}},"y":{"field":"y","type":"quantitative","title":"Proportion of Concordant Nodes","scale":{"domain":[-0.034,0.744],"nice":false,"zero":false},"axis":{"values":[0,0.2,0.4,0.6],"format":".1f","grid":true,"gridColor":"#ebebeb","gridWidth":0.7,"domain":false,"tickColor":"#333","tickSize":3,"labelFont":"Liberation Sans","labelFontSize":10,"labelColor":"#4d4d4d","labelPadding":2,"titleFont":"Liberation Sans","titleFontSize":12.5,"titleFontWeight":"normal","titleColor":"#111","titlePadding":5}},"color":{"field":"y","type":"quantitative","legend":null,"scale":{"domain":[0,0.316,0.632],"range":["#00ff00","#7a93a0","#0000ff"],"interpolate":"lab"}}}},
 {"data":{"name":"lineC"},"mark":{"type":"line","color":"#d7191c","strokeWidth":1,"interpolate":"monotone"},"encoding":{"x":{"field":"x","type":"quantitative","scale":{"domain":[-49,1704],"nice":false,"zero":false}},"y":{"field":"y","type":"quantitative","scale":{"domain":[-0.034,0.744],"nice":false,"zero":false}}}},
 {"data":{"values":[{"t":"***","x":145,"y":0.707}]},"mark":{"type":"text","fontSize":15,"font":"Liberation Sans","color":"#222"},"encoding":{"text":{"field":"t"},"x":{"field":"x","type":"quantitative","scale":{"domain":[-49,1704],"nice":false,"zero":false}},"y":{"field":"y","type":"quantitative","scale":{"domain":[-0.034,0.744],"nice":false,"zero":false}}}}
]},
{"width":29,"height":1,"data":{"values":[{}]},"mark":{"type":"point","opacity":0}},
{"width":132,"height":197,"view":{"stroke":"#7f7f7f","strokeWidth":1.2},"title":{"text":"D","anchor":"start","frame":"group","fontSize":20,"font":"Liberation Sans","fontWeight":"normal","offset":4,"color":"#111"},"layer":[
 {"data":{"values":[{"x":1},{"x":3},{"x":5},{"x":7}]},"mark":{"type":"rule","color":"#f3f3f3","strokeWidth":0.5},"encoding":{"x":{"field":"x","type":"quantitative","scale":{"domain":[-0.35,7.34],"nice":false,"zero":false}}}},
 {"data":{"values":[{"y":0.1},{"y":0.3},{"y":0.5}]},"mark":{"type":"rule","color":"#f3f3f3","strokeWidth":0.5},"encoding":{"y":{"field":"y","type":"quantitative","scale":{"domain":[-0.031,0.662],"nice":false,"zero":false}}}},
 {"data":{"name":"pointsD"},"mark":{"type":"circle","size":24,"opacity":1},"encoding":{"x":{"field":"x","type":"quantitative","title":["Tree Length","(substitutions per site)"],"scale":{"domain":[-0.35,7.34],"nice":false,"zero":false},"axis":{"values":[0,2,4,6],"format":"d","labelOverlap":false,"grid":true,"gridColor":"#ebebeb","gridWidth":0.7,"domain":false,"tickColor":"#333","tickSize":3,"labelFont":"Liberation Sans","labelFontSize":10,"labelColor":"#4d4d4d","labelPadding":2,"titleFont":"DejaVu Sans","titleFontSize":8,"titleFontWeight":"normal","titleColor":"#333","titleLineHeight":11,"titlePadding":5}},"y":{"field":"y","type":"quantitative","title":null,"scale":{"domain":[-0.031,0.662],"nice":false,"zero":false},"axis":{"values":[0,0.2,0.4,0.6],"format":".1f","grid":true,"gridColor":"#ebebeb","gridWidth":0.7,"domain":false,"tickColor":"#333","tickSize":3,"labelFont":"Liberation Sans","labelFontSize":10,"labelColor":"#4d4d4d","labelPadding":2,"title":null}},"color":{"field":"y","type":"quantitative","legend":null,"scale":{"domain":[0,0.316,0.632],"range":["#00ff00","#7a93a0","#0000ff"],"interpolate":"lab"}}}},
 {"data":{"name":"lineD"},"mark":{"type":"line","color":"#d7191c","strokeWidth":1,"interpolate":"monotone"},"encoding":{"x":{"field":"x","type":"quantitative","scale":{"domain":[-0.35,7.34],"nice":false,"zero":false}},"y":{"field":"y","type":"quantitative","scale":{"domain":[-0.031,0.662],"nice":false,"zero":false}}}},
 {"data":{"values":[{"t":"***","x":0.52,"y":0.629}]},"mark":{"type":"text","fontSize":15,"font":"Liberation Sans","color":"#222"},"encoding":{"text":{"field":"t"},"x":{"field":"x","type":"quantitative","scale":{"domain":[-0.35,7.34],"nice":false,"zero":false}},"y":{"field":"y","type":"quantitative","scale":{"domain":[-0.031,0.662],"nice":false,"zero":false}}}}
]},
{"width":36,"height":1,"data":{"values":[{}]},"mark":{"type":"point","opacity":0}},
{"width":125,"height":197,"view":{"stroke":"#7f7f7f","strokeWidth":1.2},"title":{"text":"E","anchor":"start","frame":"group","fontSize":20,"font":"Liberation Sans","fontWeight":"normal","offset":4,"color":"#111"},"layer":[
 {"data":{"values":[{"x":500},{"x":1500},{"x":2500},{"x":3500},{"x":4500}]},"mark":{"type":"rule","color":"#f3f3f3","strokeWidth":0.5},"encoding":{"x":{"field":"x","type":"quantitative","scale":{"domain":[-90,4840],"nice":false,"zero":false}}}},
 {"data":{"values":[{"y":0.125},{"y":0.375},{"y":0.625},{"y":0.875}]},"mark":{"type":"rule","color":"#f3f3f3","strokeWidth":0.5},"encoding":{"y":{"field":"y","type":"quantitative","scale":{"domain":[-0.022,0.913],"nice":false,"zero":false}}}},
 {"data":{"name":"pointsE"},"mark":{"type":"circle","size":24,"opacity":1},"encoding":{"x":{"field":"x","type":"quantitative","title":["Length","(bp)"],"scale":{"domain":[-90,4840],"nice":false,"zero":false},"axis":{"values":[0,1000,2000,3000,4000],"format":"d","labelOverlap":false,"grid":true,"gridColor":"#ebebeb","gridWidth":0.7,"domain":false,"tickColor":"#333","tickSize":3,"labelFont":"Liberation Sans","labelFontSize":10,"labelColor":"#4d4d4d","labelPadding":2,"titleFont":"DejaVu Sans","titleFontSize":8,"titleFontWeight":"normal","titleColor":"#333","titleLineHeight":11,"titlePadding":5}},"y":{"field":"y","type":"quantitative","title":null,"scale":{"domain":[-0.022,0.913],"nice":false,"zero":false},"axis":{"values":[0,0.25,0.5,0.75],"format":".2f","grid":true,"gridColor":"#ebebeb","gridWidth":0.7,"domain":false,"tickColor":"#333","tickSize":3,"labelFont":"Liberation Sans","labelFontSize":10,"labelColor":"#4d4d4d","labelPadding":2,"title":null}},"color":{"field":"y","type":"quantitative","legend":null,"scale":{"domain":[0,0.398,0.796],"range":["#00ff00","#7a93a0","#0000ff"],"interpolate":"lab"}}}},
 {"data":{"name":"lineE"},"mark":{"type":"line","color":"#d7191c","strokeWidth":1,"interpolate":"monotone"},"encoding":{"x":{"field":"x","type":"quantitative","scale":{"domain":[-90,4840],"nice":false,"zero":false}},"y":{"field":"y","type":"quantitative","scale":{"domain":[-0.022,0.913],"nice":false,"zero":false}}}},
 {"data":{"values":[{"t":"***","x":500,"y":0.866}]},"mark":{"type":"text","fontSize":15,"font":"Liberation Sans","color":"#222"},"encoding":{"text":{"field":"t"},"x":{"field":"x","type":"quantitative","scale":{"domain":[-90,4840],"nice":false,"zero":false}},"y":{"field":"y","type":"quantitative","scale":{"domain":[-0.022,0.913],"nice":false,"zero":false}}}}
]},
{"width":31,"height":1,"data":{"values":[{}]},"mark":{"type":"point","opacity":0}},
{"width":130,"height":197,"view":{"stroke":"#7f7f7f","strokeWidth":1.2},"title":{"text":"F","anchor":"start","frame":"group","fontSize":20,"font":"Liberation Sans","fontWeight":"normal","offset":4,"color":"#111"},"layer":[
 {"data":{"values":[{"x":0.5},{"x":1.5},{"x":2.5},{"x":3.5}]},"mark":{"type":"rule","color":"#f3f3f3","strokeWidth":0.5},"encoding":{"x":{"field":"x","type":"quantitative","scale":{"domain":[0.082,3.52],"nice":false,"zero":false}}}},
 {"data":{"values":[{"y":0.1},{"y":0.3},{"y":0.5},{"y":0.7}]},"mark":{"type":"rule","color":"#f3f3f3","strokeWidth":0.5},"encoding":{"y":{"field":"y","type":"quantitative","scale":{"domain":[-0.017,0.8316],"nice":false,"zero":false}}}},
 {"data":{"name":"pointsF"},"mark":{"type":"circle","size":24,"opacity":1},"encoding":{"x":{"field":"x","type":"quantitative","title":["Tree Length","(substitutions per site)"],"scale":{"domain":[0.082,3.52],"nice":false,"zero":false},"axis":{"values":[1,2,3],"format":"d","labelOverlap":false,"grid":true,"gridColor":"#ebebeb","gridWidth":0.7,"domain":false,"tickColor":"#333","tickSize":3,"labelFont":"Liberation Sans","labelFontSize":10,"labelColor":"#4d4d4d","labelPadding":2,"titleFont":"DejaVu Sans","titleFontSize":8,"titleFontWeight":"normal","titleColor":"#333","titleLineHeight":11,"titlePadding":5}},"y":{"field":"y","type":"quantitative","title":null,"scale":{"domain":[-0.017,0.8316],"nice":false,"zero":false},"axis":{"values":[0,0.2,0.4,0.6,0.8],"format":".1f","grid":true,"gridColor":"#ebebeb","gridWidth":0.7,"domain":false,"tickColor":"#333","tickSize":3,"labelFont":"Liberation Sans","labelFontSize":10,"labelColor":"#4d4d4d","labelPadding":2,"title":null}},"color":{"field":"y","type":"quantitative","legend":null,"scale":{"domain":[0,0.398,0.797],"range":["#00ff00","#7a93a0","#0000ff"],"interpolate":"lab"}}}},
 {"data":{"name":"lineF"},"mark":{"type":"line","color":"#d7191c","strokeWidth":1,"interpolate":"monotone"},"encoding":{"x":{"field":"x","type":"quantitative","scale":{"domain":[0.082,3.52],"nice":false,"zero":false}},"y":{"field":"y","type":"quantitative","scale":{"domain":[-0.017,0.8316],"nice":false,"zero":false}}}},
 {"data":{"values":[{"t":"***","x":0.452,"y":0.789}]},"mark":{"type":"text","fontSize":15,"font":"Liberation Sans","color":"#222"},"encoding":{"text":{"field":"t"},"x":{"field":"x","type":"quantitative","scale":{"domain":[0.082,3.52],"nice":false,"zero":false}},"y":{"field":"y","type":"quantitative","scale":{"domain":[-0.017,0.8316],"nice":false,"zero":false}}}}
]}
],"spacing":0,"bounds":"flush","resolve":{"scale":{"color":"independent"}}}
]}
